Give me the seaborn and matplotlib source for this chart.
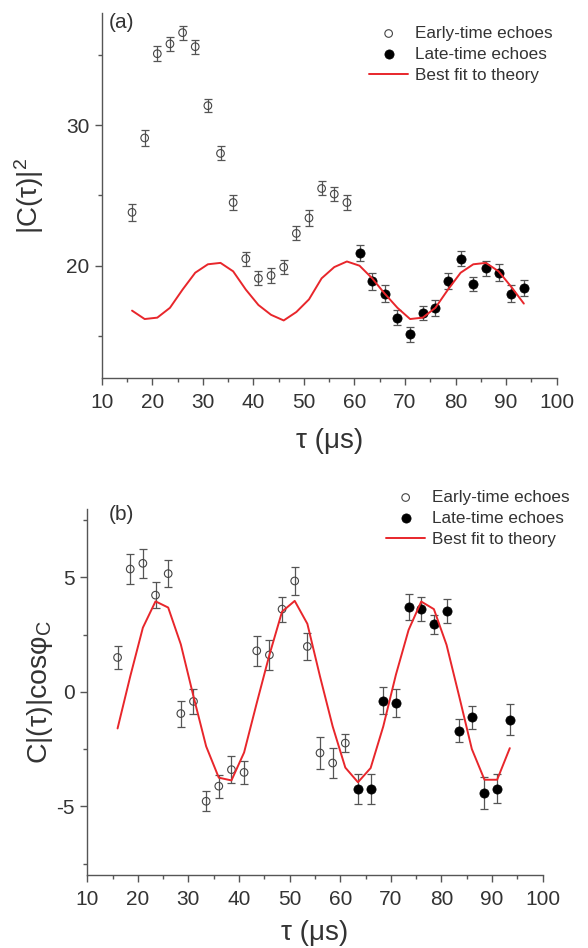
import matplotlib
matplotlib.use("Agg")
import matplotlib.pyplot as plt
from matplotlib.ticker import MultipleLocator
import seaborn as sns

# ---- panel (a): |C(tau)|^2 ----
tau_early_a = [16, 18.5, 21, 23.5, 26, 28.5, 31, 33.5, 36, 38.5, 41, 43.5, 46, 48.5, 51, 53.5, 56, 58.5]
c2_early = [23.8, 29.1, 35.1, 35.8, 36.6, 35.6, 31.4, 28.0, 24.5, 20.5, 19.1, 19.3, 19.9, 22.3, 23.4, 25.5, 25.1, 24.5]
c2_early_err = [0.6, 0.55, 0.55, 0.5, 0.5, 0.5, 0.45, 0.5, 0.5, 0.5, 0.5, 0.5, 0.5, 0.5, 0.55, 0.5, 0.5, 0.55]
tau_late_a = [61, 63.5, 66, 68.5, 71, 73.5, 76, 78.5, 81, 83.5, 86, 88.5, 91, 93.5]
c2_late = [20.9, 18.9, 18.0, 16.3, 15.1, 16.6, 17.0, 18.9, 20.5, 18.7, 19.8, 19.5, 18.0, 18.4]
c2_late_err = [0.6, 0.6, 0.6, 0.55, 0.5, 0.5, 0.55, 0.55, 0.55, 0.5, 0.55, 0.6, 0.6, 0.55]
tau_fit = [16, 18.5, 21, 23.5, 26, 28.5, 31, 33.5, 36, 38.5, 41, 43.5, 46, 48.5, 51, 53.5,
           56, 58.5, 61, 63.5, 66, 68.5, 71, 73.5, 76, 78.5, 81, 83.5, 86, 88.5, 91, 93.5]
c2_fit = [16.8, 16.2, 16.3, 17.0, 18.3, 19.5, 20.1, 20.2, 19.6, 18.3, 17.2, 16.5, 16.1, 16.7, 17.6, 19.1,
          19.9, 20.3, 20.0, 19.1, 18.0, 17.0, 16.2, 16.3, 17.0, 18.3, 19.5, 20.1, 20.2, 19.6, 18.5, 17.3]

# ---- panel (b): C|(tau)|cos(phi_C) ----
tau_early_b = [16, 18.5, 21, 23.5, 26, 28.5, 31, 33.5, 36, 38.5, 41, 43.5, 46, 48.5, 51, 53.5, 56, 58.5, 61]
cc_early = [1.50, 5.36, 5.61, 4.22, 5.16, -0.95, -0.42, -4.78, -4.12, -3.40, -3.52, 1.79, 1.61, 3.61, 4.84,
            1.98, -2.67, -3.11, -2.24]
cc_early_err = [0.51, 0.64, 0.63, 0.58, 0.58, 0.57, 0.55, 0.44, 0.5, 0.58, 0.51, 0.65, 0.64, 0.55, 0.61,
                0.57, 0.68, 0.65, 0.41]
tau_late_b = [63.5, 66, 68.5, 71, 73.5, 76, 78.5, 81, 83.5, 86, 88.5, 91, 93.5]
cc_late = [-4.23, -4.23, -0.38, -0.49, 3.72, 3.61, 2.95, 3.53, -1.69, -1.12, -4.42, -4.23, -1.22]
cc_late_err = [0.65, 0.65, 0.60, 0.60, 0.57, 0.52, 0.41, 0.53, 0.51, 0.49, 0.68, 0.62, 0.68]
cc_fit = [-1.6, 0.67, 2.8, 3.95, 3.68, 2.07, -0.2, -2.38, -3.75, -3.87, -2.65, -0.49, 1.61, 3.5, 3.97, 2.97,
          0.67, -1.51, -3.31, -3.95, -3.33, -1.51, 0.75, 2.7, 3.94, 3.61, 2.05, -0.2, -2.5, -3.84, -3.84, -2.46]

sns.set_style("ticks")
plt.rcParams['font.family'] = ['Liberation Sans', 'DejaVu Sans']
plt.rcParams['mathtext.fontset'] = 'custom'
plt.rcParams['mathtext.rm'] = 'Liberation Sans'
plt.rcParams['mathtext.it'] = 'Liberation Sans'
plt.rcParams['axes.unicode_minus'] = False

W, H = 588, 948
fig = plt.figure(figsize=(W / 100, H / 100), dpi=100)


def px_axes(l, t, r, b):
    return fig.add_axes([l / W, 1 - b / H, (r - l) / W, (b - t) / H])


ax_a = px_axes(101.7, 13, 556.7, 378)
ax_b = px_axes(87.2, 508.6, 542.7, 875)

ink = '#333333'
bar_col = '#555555'
red = '#e8262b'


def draw_panel(ax, te, ye, ee, tl, yl, el, yfit, xpad):
    ax.errorbar(te, ye, yerr=ee, fmt='none', ecolor=bar_col, elinewidth=0.9, capsize=2.8, capthick=0.9, zorder=2)
    ax.errorbar(tl, yl, yerr=el, fmt='none', ecolor=bar_col, elinewidth=0.9, capsize=2.8, capthick=0.9, zorder=2)
    sns.scatterplot(x=te, y=ye, ax=ax, marker='o', s=30, facecolor='none', edgecolor='#444444',
                    linewidth=0.8, label='Early-time echoes', zorder=3)
    sns.scatterplot(x=tl, y=yl, ax=ax, marker='o', s=44, color='black', edgecolor='black',
                    linewidth=0.5, label='Late-time echoes', zorder=3)
    sns.lineplot(x=tau_fit, y=yfit, ax=ax, color=red, linewidth=1.4, label='Best fit to theory', zorder=4)
    ax.set_xlim(10, 100)
    ax.xaxis.set_major_locator(MultipleLocator(10))
    ax.xaxis.set_minor_locator(MultipleLocator(5))
    for s in ['top', 'right']:
        ax.spines[s].set_visible(False)
    for s in ['left', 'bottom']:
        ax.spines[s].set_color('#555555')
        ax.spines[s].set_linewidth(1.0)
    ax.tick_params(which='major', length=5, width=1, color='#555555', labelsize=15, labelcolor=ink)
    ax.tick_params(which='minor', length=3, width=1, color='#555555')
    ax.tick_params(axis='x', pad=5.5)
    ax.tick_params(axis='y', pad=4)
    ax.set_xlabel('τ (μs)', fontsize=20, color=ink, labelpad=xpad)


draw_panel(ax_a, tau_early_a, c2_early, c2_early_err, tau_late_a, c2_late, c2_late_err, c2_fit, 12)
ax_a.set_ylim(12, 38)
ax_a.yaxis.set_major_locator(MultipleLocator(10))
ax_a.yaxis.set_minor_locator(MultipleLocator(5))
ax_a.set_ylabel(r'|C(τ)|$^\mathregular{2}$', fontsize=20, color=ink, labelpad=14)

draw_panel(ax_b, tau_early_b, cc_early, cc_early_err, tau_late_b, cc_late, cc_late_err, cc_fit, 8.5)
ax_b.set_ylim(-8, 8)
ax_b.yaxis.set_major_locator(MultipleLocator(5))
ax_b.yaxis.set_minor_locator(MultipleLocator(2.5))
ax_b.set_ylabel(r'C|(τ)|cosφ$_\mathregular{C}$', fontsize=20.5, color=ink, labelpad=1)

for ax, (lx, ly) in [(ax_a, (369, 26)), (ax_b, (386, 490))]:
    ax.legend(loc='upper left', bbox_to_anchor=(lx / W, 1 - ly / H), bbox_transform=fig.transFigure,
              frameon=False, fontsize=12.3, handlelength=2.3, handletextpad=0.4, labelspacing=0.34,
              borderpad=0, borderaxespad=0, labelcolor=ink)

fig.text(109 / W, 1 - 23 / H, '(a)', fontsize=15, color=ink, va='center')
fig.text(109 / W, 1 - 515 / H, '(b)', fontsize=15, color=ink, va='center')

fig.savefig('out.png', dpi=100)
